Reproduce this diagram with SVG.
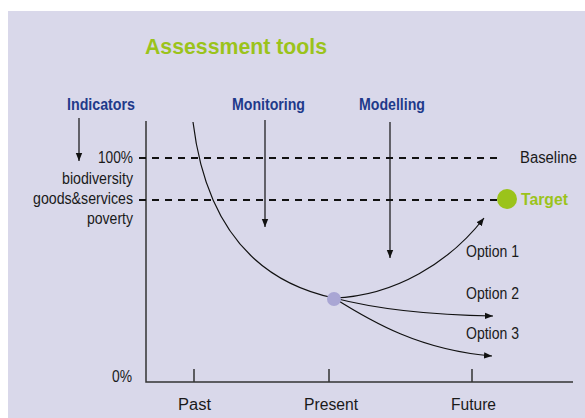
<svg xmlns="http://www.w3.org/2000/svg" width="585" height="418" viewBox="0 0 585 418">
<defs>
<style>
.t{font-family:"Liberation Sans",Arial,sans-serif;font-size:16px;fill:#1a1a1a}
.h{font-family:"Liberation Sans",Arial,sans-serif;font-size:16px;font-weight:bold;fill:#1f3a8a}
.g{font-family:"Liberation Sans",Arial,sans-serif;font-weight:bold;fill:#9bc31b}
.ln{stroke:#111;stroke-width:1.2;fill:none}
.ax{stroke:#333;stroke-width:1.5;fill:none}
.dash{stroke:#111;stroke-width:2;stroke-dasharray:7,6;fill:none}
</style>
<marker id="ah" viewBox="0 0 10 10" refX="10" refY="5" markerWidth="8" markerHeight="8" markerUnits="userSpaceOnUse" orient="auto">
<path d="M0,1 L10,5 L0,9 Z" fill="#111"/>
</marker>
</defs>
<rect x="0" y="0" width="585" height="418" fill="#ffffff"/>
<rect x="8" y="11" width="577" height="407" fill="#d9d8ea"/>
<text class="g" x="145" y="54" font-size="22" textLength="182" lengthAdjust="spacingAndGlyphs">Assessment tools</text>
<g id="headers">
<text class="h" x="67" y="110" textLength="68" lengthAdjust="spacingAndGlyphs">Indicators</text>
<text class="h" x="232" y="110" textLength="73" lengthAdjust="spacingAndGlyphs">Monitoring</text>
<text class="h" x="359" y="110" textLength="66" lengthAdjust="spacingAndGlyphs">Modelling</text>
</g>
<g id="axes">
<path class="ax" d="M146,121 V382 H573"/>
<path class="ax" d="M194,369 V382 M329,369 V382 M472,369 V382"/>
<text class="t" x="112" y="382" textLength="20" lengthAdjust="spacingAndGlyphs">0%</text>
<text class="t" x="178" y="410" textLength="33" lengthAdjust="spacingAndGlyphs">Past</text>
<text class="t" x="304" y="410" textLength="54" lengthAdjust="spacingAndGlyphs">Present</text>
<text class="t" x="451" y="410" textLength="45" lengthAdjust="spacingAndGlyphs">Future</text>
</g>
<g id="yLabels">
<text class="t" x="98" y="163" textLength="35" lengthAdjust="spacingAndGlyphs">100%</text>
<text class="t" x="62" y="184" textLength="71" lengthAdjust="spacingAndGlyphs">biodiversity</text>
<text class="t" x="33" y="204" textLength="100" lengthAdjust="spacingAndGlyphs">goods&amp;services</text>
<text class="t" x="87" y="224" textLength="46" lengthAdjust="spacingAndGlyphs">poverty</text>
</g>
<g id="baseline">
<path class="dash" d="M139,158 H497"/>
<text class="t" x="520" y="163" textLength="57" lengthAdjust="spacingAndGlyphs">Baseline</text>
</g>
<g id="target">
<path class="dash" d="M139,200 H497"/>
<circle cx="507" cy="199" r="10" fill="#9bc31b"/>
<text class="g" x="521" y="205" font-size="16" textLength="47" lengthAdjust="spacingAndGlyphs">Target</text>
</g>
<g id="connectors">
<path class="ln" d="M79,118 V161" marker-end="url(#ah)"/>
<path class="ln" d="M265,120 V227" marker-end="url(#ah)"/>
<path class="ln" d="M390,122 V258" marker-end="url(#ah)"/>
<path class="ln" d="M193,122 C205,220 250,280 334,298"/>
<path class="ln" d="M334,298 C395,296 450,262 484,218" marker-end="url(#ah)"/>
<path class="ln" d="M334,298 C380,310 430,315 493,316" marker-end="url(#ah)"/>
<path class="ln" d="M334,298 C372,322 420,350 492,356" marker-end="url(#ah)"/>
</g>
<g id="present">
<circle cx="334" cy="299" r="7" fill="#a9a6d4"/>
</g>
<g id="options">
<text class="t" x="466" y="257" textLength="53" lengthAdjust="spacingAndGlyphs">Option 1</text>
<text class="t" x="466" y="299" textLength="53" lengthAdjust="spacingAndGlyphs">Option 2</text>
<text class="t" x="466" y="339" textLength="53" lengthAdjust="spacingAndGlyphs">Option 3</text>
</g>
</svg>
